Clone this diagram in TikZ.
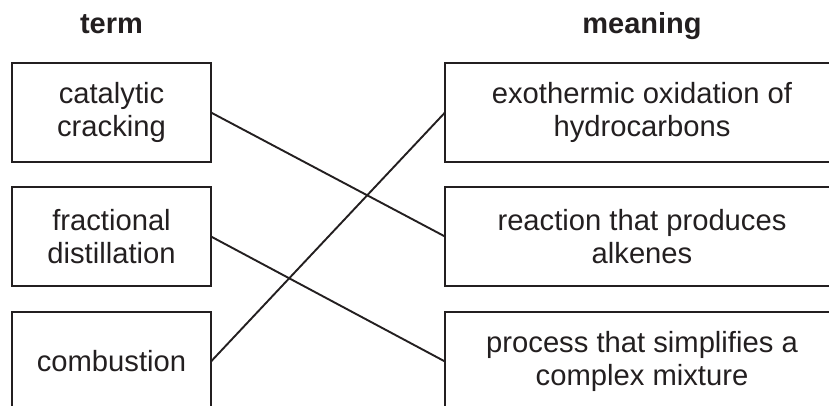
\documentclass[tikz,border=0pt]{standalone}
\usepackage{fontspec}
\setmainfont{Liberation Sans}
\definecolor{ink}{HTML}{231F20}
\begin{document}
\begin{tikzpicture}[x=1pt,y=-1pt,
  box/.style={draw=ink,line width=2pt,rectangle,inner sep=0pt,outer sep=0pt,
    minimum height=99pt,align=center,text=ink,
    font=\fontsize{29.2}{32.5}\selectfont},
  lbox/.style={box,minimum width=199pt},
  rbox/.style={box,minimum width=394pt},
  head/.style={anchor=base,text=ink,inner sep=0pt,font=\fontsize{29}{32}\selectfont\bfseries},
  link/.style={draw=ink,line width=1.9pt}]
\useasboundingbox (0,0) rectangle (829,405);
\clip (0,0) rectangle (829,405);
\node[head] (hterm) at (111.5,33) {term};
\node[head] (hmean) at (642,33) {meaning};
\node[lbox] (cc) at (111.5,112.5) {catalytic\\cracking};
\node[lbox] (fd) at (111.5,236.5) {fractional\\distillation};
\node[lbox] (cb) at (111.5,361.5) {combustion};
\node[rbox] (ex) at (642,112.5) {exothermic oxidation of\\hydrocarbons};
\node[rbox] (rp) at (642,236.5) {reaction that produces\\alkenes};
\node[rbox] (ps) at (642,361.5) {process that simplifies a\\complex mixture};
\draw[link] (cc.east) -- (rp.west);
\draw[link] (fd.east) -- (ps.west);
\draw[link] (cb.east) -- (ex.west);
\end{tikzpicture}
\end{document}
